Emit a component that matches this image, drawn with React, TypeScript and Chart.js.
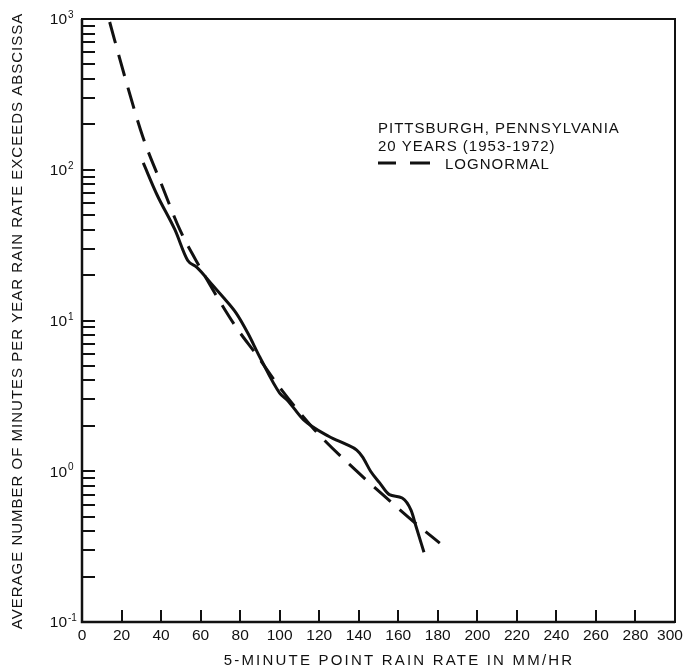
import React, { useEffect, useRef } from 'react';
import { Chart, registerables } from 'chart.js';

Chart.register(...registerables);

// Observed (solid) curve: rain rate (mm/hr) vs minutes per year exceeded
const observedRate = [31, 38, 47, 53.5, 58, 66, 72, 78, 84, 90, 100, 104, 112, 125, 134, 139, 142, 146, 150.5, 155.5, 162, 166.5, 169, 173];
const observedMinutes = [111, 68, 40, 25, 22.6, 17.2, 14, 11.2, 8.2, 5.7, 3.3, 2.95, 2.2, 1.7, 1.5, 1.38, 1.24, 1.0, 0.84, 0.7, 0.665, 0.55, 0.43, 0.29];

// Lognormal fit (dashed)
const lognormalRate = [14, 21.7, 30.8, 40.4, 49.5, 59.6, 68.7, 78.3, 88.4, 100, 117.7, 139.4, 154, 168, 181];
const lognormalMinutes = [955, 412, 165, 79, 40, 22.6, 14.1, 8.9, 5.9, 3.6, 1.88, 0.99, 0.665, 0.46, 0.334];

const xTickValues = [0, 20, 40, 60, 80, 100, 120, 140, 160, 180, 200, 220, 240, 260, 280, 300];
const yExponents = [-1, 0, 1, 2, 3];
const yMinorMultipliers = [2, 3, 4, 5, 6, 7, 8, 9];

const yTitle = 'AVERAGE NUMBER OF MINUTES PER YEAR RAIN RATE EXCEEDS ABSCISSA';
const xTitle = '5-MINUTE POINT RAIN RATE IN MM/HR';
const noteLines = ['PITTSBURGH, PENNSYLVANIA', '20 YEARS (1953-1972)'];
const legendLabel = 'LOGNORMAL';

const FONT = '"Liberation Sans", Arial, Helvetica, sans-serif';
const INK = '#111';

const decorPlugin = {
  id: 'decor',
  afterDraw(chart: any) {
    const ctx: CanvasRenderingContext2D = chart.ctx;
    const xs = chart.scales.x;
    const ys = chart.scales.y;
    const area = chart.chartArea;
    ctx.save();
    ctx.strokeStyle = INK;
    ctx.fillStyle = INK;
    ctx.lineCap = 'butt';

    // frame
    ctx.lineWidth = 2;
    ctx.strokeRect(area.left, area.top, area.right - area.left, area.bottom - area.top);
    ctx.lineWidth = 2.5;
    ctx.beginPath();
    ctx.moveTo(area.left, area.top);
    ctx.lineTo(area.left, area.bottom);
    ctx.lineTo(area.right, area.bottom);
    ctx.stroke();

    // y ticks (inside, left)
    ctx.lineWidth = 2;
    ctx.beginPath();
    yExponents.forEach((e) => {
      if (e === 3) return;
      const vals = [Math.pow(10, e), ...yMinorMultipliers.map((m) => m * Math.pow(10, e))];
      vals.forEach((v, i) => {
        if (i === 0 && e === -1) return;
        const py = Math.round(ys.getPixelForValue(v));
        ctx.moveTo(area.left, py);
        ctx.lineTo(area.left + 13, py);
      });
    });
    ctx.stroke();

    // x ticks (inside, bottom)
    ctx.beginPath();
    xTickValues.forEach((v) => {
      if (v === 0 || v === 300) return;
      const px = Math.round(xs.getPixelForValue(v));
      ctx.moveTo(px, area.bottom);
      ctx.lineTo(px, area.bottom - 12);
    });
    ctx.stroke();

    // x tick labels
    ctx.font = `15.5px ${FONT}`;
    ctx.textAlign = 'center';
    ctx.textBaseline = 'top';
    xTickValues.forEach((v) => {
      const px = xs.getPixelForValue(v);
      ctx.fillText(String(v), v === 300 ? px - 5 : px, area.bottom + 6);
    });

    // y tick labels 10^e
    yExponents.forEach((e) => {
      const py = ys.getPixelForValue(Math.pow(10, e));
      ctx.font = `15.5px ${FONT}`;
      ctx.textAlign = 'right';
      ctx.textBaseline = 'middle';
      ctx.fillText('10', area.left - 15, py + 1);
      ctx.font = `10px ${FONT}`;
      ctx.textAlign = 'left';
      ctx.textBaseline = 'alphabetic';
      ctx.fillText(String(e), area.left - 14, py - 1);
    });

    // axis titles
    (ctx as any).letterSpacing = '2.2px';
    ctx.font = `15px ${FONT}`;
    ctx.textAlign = 'center';
    ctx.textBaseline = 'middle';
    ctx.fillText(xTitle, 399, 661);

    ctx.save();
    (ctx as any).letterSpacing = '1px';
    ctx.translate(18, 321);
    ctx.rotate(-Math.PI / 2);
    ctx.font = `15px ${FONT}`;
    ctx.fillText(yTitle, 0, 0);
    ctx.restore();

    // note + legend
    (ctx as any).letterSpacing = '1px';
    ctx.font = `15px ${FONT}`;
    ctx.textAlign = 'left';
    ctx.textBaseline = 'alphabetic';
    ctx.fillText(noteLines[0], 378, 133);
    ctx.fillText(noteLines[1], 378, 151);
    ctx.fillText(legendLabel, 445, 169);
    (ctx as any).letterSpacing = '0px';
    ctx.lineWidth = 3;
    ctx.beginPath();
    ctx.moveTo(378, 163);
    ctx.lineTo(396, 163);
    ctx.moveTo(410, 163);
    ctx.lineTo(430, 163);
    ctx.stroke();

    ctx.restore();
  },
};

export default function App() {
  const ref = useRef<HTMLCanvasElement | null>(null);

  useEffect(() => {
    if (!ref.current) return;
    const chart = new Chart(ref.current, {
      type: 'line',
      data: {
        datasets: [
          {
            label: 'Observed',
            data: observedRate.map((x, i) => ({ x, y: observedMinutes[i] })),
            borderColor: INK,
            borderWidth: 3,
            pointRadius: 0,
            fill: false,
            tension: 0.4,
            cubicInterpolationMode: 'monotone',
          },
          {
            label: legendLabel,
            data: lognormalRate.map((x, i) => ({ x, y: lognormalMinutes[i] })),
            borderColor: INK,
            borderWidth: 3,
            borderDash: [22, 12],
            pointRadius: 0,
            fill: false,
            tension: 0.4,
            cubicInterpolationMode: 'monotone',
          },
        ],
      },
      options: {
        responsive: false,
        animation: false,
        devicePixelRatio: 1,
        layout: { padding: { left: 82, right: 10, top: 19, bottom: 47 } },
        plugins: { legend: { display: false }, tooltip: { enabled: false }, title: { display: false } },
        scales: {
          x: { type: 'linear', min: 0, max: 300, display: false },
          y: { type: 'logarithmic', min: 0.1, max: 1000, display: false },
        },
      },
      plugins: [decorPlugin],
    } as any);
    return () => chart.destroy();
  }, []);

  return (
    <div style={{ position: 'absolute', left: 0, top: 0, width: 685, height: 669, background: '#fff' }}>
      <canvas ref={ref} width={685} height={669} style={{ display: 'block' }} />
    </div>
  );
}
